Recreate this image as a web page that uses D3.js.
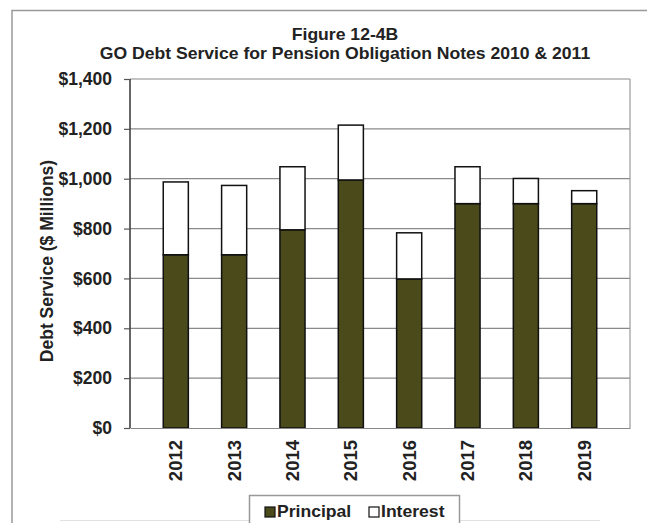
<!DOCTYPE html>
<html>
<head>
<meta charset="utf-8">
<script src="https://cdn.jsdelivr.net/npm/d3@7"></script>
<style>
  body { margin: 0; background: #fff; }
  text { font-family: "Liberation Sans", Arial, sans-serif; font-weight: bold; fill: #222; }
</style>
</head>
<body>
<div id="canvas"></div>
<script>
const years = ["2012", "2013", "2014", "2015", "2016", "2017", "2018", "2019"];
const principal = [695, 695, 795, 995, 598, 900, 900, 900];
const interest = [292, 278, 253, 220, 185, 148, 101, 52];
const yTicks = [0, 200, 400, 600, 800, 1000, 1200, 1400];
const seriesNames = ["Principal", "Interest"];
const colors = ["#4a4a1b", "#ffffff"];

const width = 647;
const height = 523;
const margin = { top: 79, left: 130, bottom: 95, right: 17 };
const iwidth = width - margin.left - margin.right;
const iheight = height - margin.top - margin.bottom;

const svg = d3.select("#canvas").append("svg")
  .attr("width", width)
  .attr("height", height);

// outer frame
svg.append("path")
  .attr("d", `M12,${height} V10.5 H${width}`)
  .attr("fill", "none")
  .attr("stroke", "#999")
  .attr("stroke-width", 1.5);
svg.append("line")
  .attr("x1", 60).attr("x2", 600)
  .attr("y1", 520.5).attr("y2", 520.5)
  .attr("stroke", "#e2e2e2");

// title, a bit wide like the original
svg.append("text")
  .attr("transform", "translate(345,40) scale(1.1,1)")
  .attr("text-anchor", "middle")
  .style("font-size", "16px")
  .text("Figure 12-4B");
svg.append("text")
  .attr("transform", "translate(345,59) scale(1.1,1)")
  .attr("text-anchor", "middle")
  .style("font-size", "16px")
  .text("GO Debt Service for Pension Obligation Notes 2010 & 2011");

const g = svg.append("g")
  .attr("transform", `translate(${margin.left},${margin.top})`);

const y = d3.scaleLinear().domain([0, 1400]).range([iheight, 0]);
const x = d3.scaleBand().domain(years).range([0, iwidth]).padding(0.57);

// gridlines
g.append("g")
  .selectAll("line")
  .data(yTicks.slice(1))
  .enter()
  .append("line")
  .attr("x1", 0).attr("x2", iwidth)
  .attr("y1", (d) => y(d)).attr("y2", (d) => y(d))
  .attr("stroke", "#8a8a8a")
  .attr("stroke-width", 1.2);

// right border of plot
g.append("line")
  .attr("x1", iwidth).attr("x2", iwidth)
  .attr("y1", 0).attr("y2", iheight)
  .attr("stroke", "#999")
  .attr("stroke-width", 1.2);

const rows = years.map((yr, i) => ({ year: yr, Principal: principal[i], Interest: interest[i] }));
const stacked = d3.stack().keys(seriesNames)(rows);

g.selectAll("g.series")
  .data(stacked)
  .enter()
  .append("g")
  .attr("class", "series")
  .attr("fill", (d, i) => colors[i])
  .selectAll("rect")
  .data((d) => d)
  .enter()
  .append("rect")
  .attr("x", (d) => x(d.data.year))
  .attr("y", (d) => y(d[1]))
  .attr("width", x.bandwidth())
  .attr("height", (d) => y(d[0]) - y(d[1]))
  .attr("stroke", "#111")
  .attr("stroke-width", 1.5);

// x axis
const xAxis = g.append("g")
  .attr("transform", `translate(0,${iheight})`)
  .call(d3.axisBottom(x).tickSize(0).tickPadding(0));
xAxis.select(".domain").attr("stroke", "#888").attr("stroke-width", 1.2);
xAxis.selectAll("text")
  .style("font-size", "18.5px")
  .attr("transform", "rotate(-90)")
  .attr("text-anchor", "end")
  .attr("dx", "-12px")
  .attr("dy", "0.35em")
  .attr("x", 0)
  .attr("y", 0);

// y axis
const yAxis = g.append("g")
  .call(d3.axisLeft(y).tickValues(yTicks).tickSize(6).tickPadding(12)
    .tickFormat((d) => "$" + d3.format(",")(d)));
yAxis.select(".domain").attr("stroke", "#333").attr("stroke-width", 1.5)
  .attr("d", `M0,0V${iheight}`);
yAxis.selectAll(".tick line").attr("x1", -6).attr("x2", 0).attr("stroke", "#555").attr("stroke-width", 1.2);
yAxis.selectAll("text").style("font-size", "17.5px").attr("fill", "#222").attr("dx", 0);

svg.append("text")
  .attr("transform", "translate(53,261) rotate(-90)")
  .attr("text-anchor", "middle")
  .style("font-size", "17.5px")
  .text("Debt Service ($ Millions)");

// legend
const legend = svg.append("g");
legend.append("rect")
  .attr("x", 249.5).attr("y", 495.5)
  .attr("width", 210).attr("height", 40)
  .attr("fill", "#fff")
  .attr("stroke", "#999")
  .attr("stroke-width", 1.5);
const items = legend.selectAll("g.item")
  .data(seriesNames)
  .enter()
  .append("g")
  .attr("class", "item")
  .attr("transform", (d, i) => `translate(${[265, 369][i]},0)`);
items.append("rect")
  .attr("x", 0).attr("y", 507)
  .attr("width", 10).attr("height", 10)
  .attr("fill", (d, i) => colors[i])
  .attr("stroke", "#111")
  .attr("stroke-width", 1.2);
items.append("text")
  .attr("transform", "translate(12,517) scale(1.1,1)")
  .style("font-size", "16px")
  .text((d) => d);
</script>
</body>
</html>
